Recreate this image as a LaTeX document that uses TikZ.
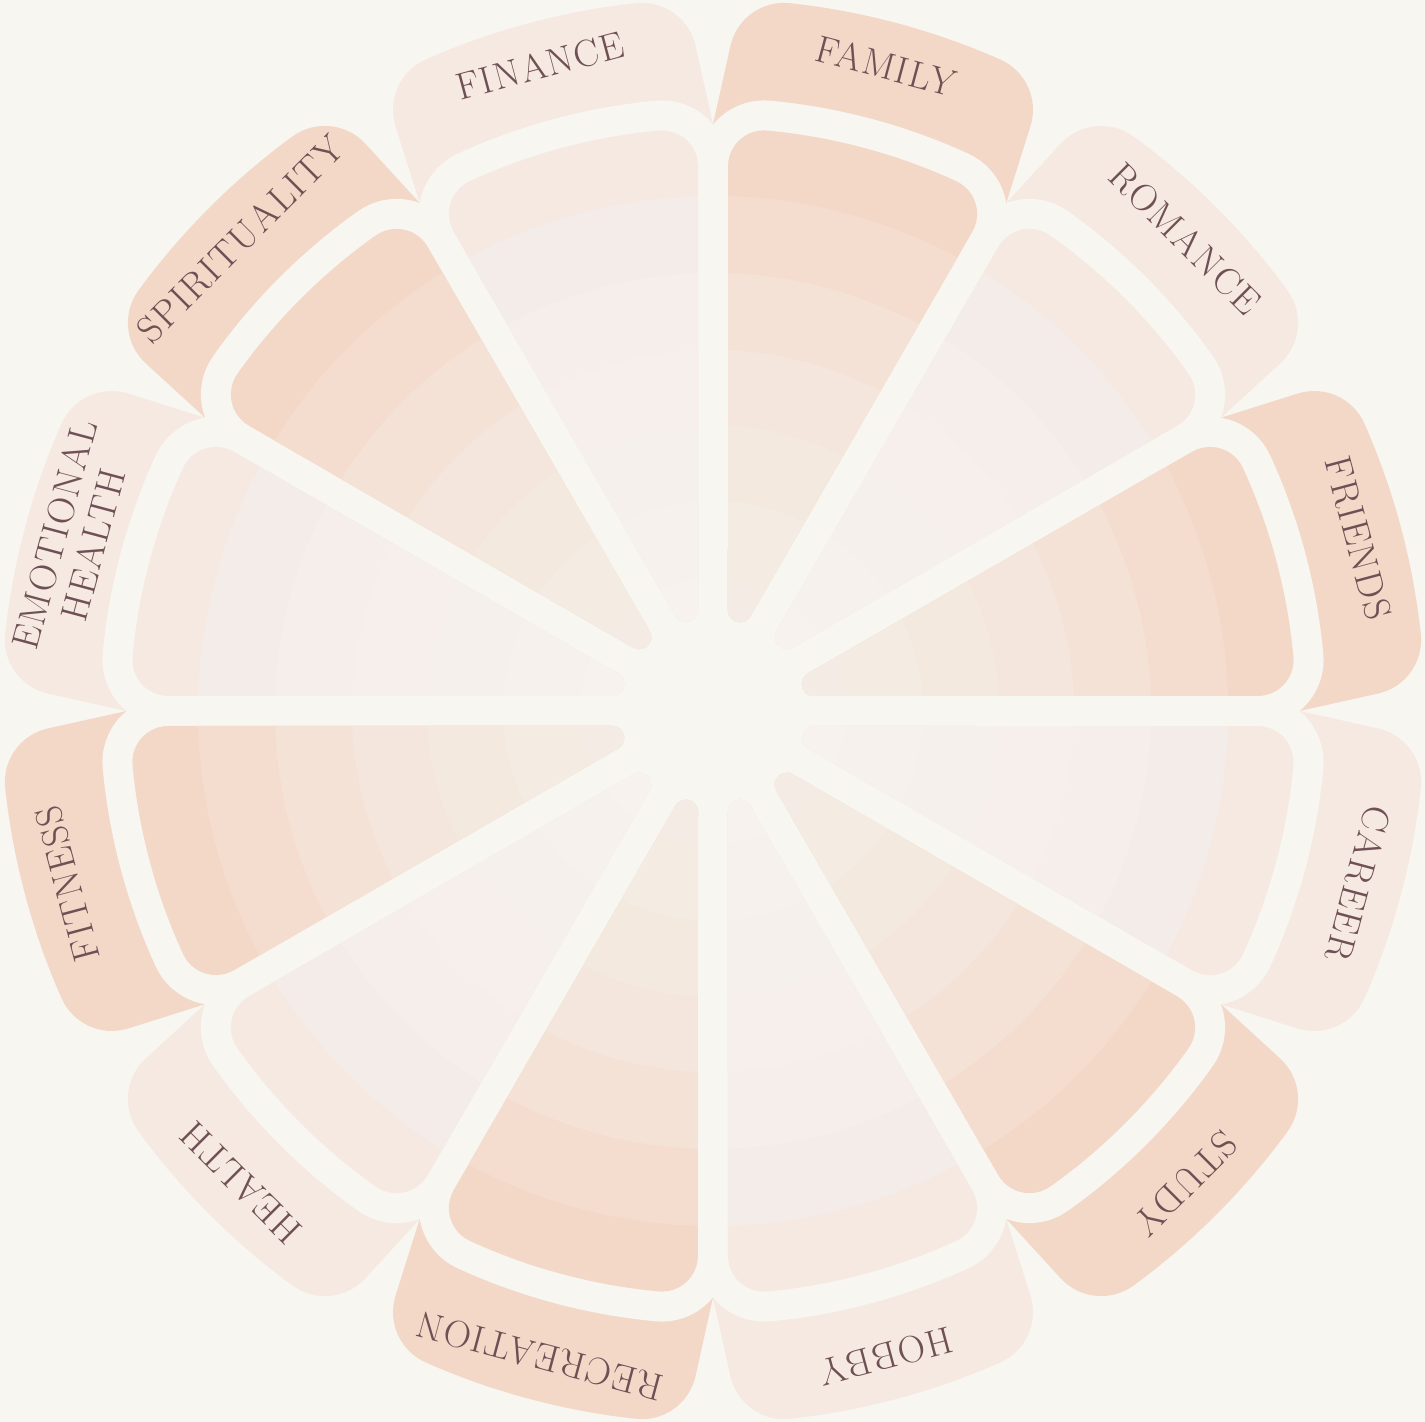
\documentclass[tikz,border=0pt]{standalone}
\usepackage{fontspec}
\definecolor{bg}{HTML}{F8F6F1}
\definecolor{bandD}{HTML}{F3D8C8}
\definecolor{bandL}{HTML}{F6E9E2}
\definecolor{D0}{HTML}{F3D8C8}
\definecolor{D1}{HTML}{F4DDCF}
\definecolor{D2}{HTML}{F4E2D6}
\definecolor{D3}{HTML}{F4E6DC}
\definecolor{D4}{HTML}{F4E9DF}
\definecolor{D5}{HTML}{F4EBE2}
\definecolor{D6}{HTML}{F4ECE4}
\definecolor{L0}{HTML}{F6E9E2}
\definecolor{L1}{HTML}{F4ECE8}
\definecolor{L2}{HTML}{F5EEEA}
\definecolor{L3}{HTML}{F6EFEB}
\definecolor{L4}{HTML}{F6F0EC}
\definecolor{L5}{HTML}{F6F1ED}
\definecolor{L6}{HTML}{F7F2EE}
\definecolor{txt}{HTML}{6E5055}
\def\wedgepath{(101.2,-11.59) -- (529.93,-126.47) arc[start angle=-105, end angle=-9.65, radius=36] arc[start angle=-9.65, end angle=9.65, radius=583] arc[start angle=9.65,end angle=105,radius=36] -- (101.2,11.59) arc[start angle=105,end angle=255,radius=12] -- cycle}
\def\bandpath{(566.5,-151.8) -- (646.9,-155.3) arc[start angle=-92.5, end angle=-8.787, radius=55] arc[start angle=-8.787, end angle=8.787, radius=712] arc[start angle=8.787, end angle=92.5, radius=55] -- (566.5,151.8) -- cycle}
\newfontfamily\lblfont[LetterSpace=4]{Latin Modern Roman}
\tikzset{
  lbl/.style={text=txt, inner sep=0pt, font=\lblfont\fontsize{19}{20}\selectfont},
  halo/.style={fill=bg, draw=bg, line width=30pt, line join=round}
}
\begin{document}
\begin{tikzpicture}[x=0.5pt,y=0.5pt]
\fill[bg] (-713,-711) rectangle (712,711);
\useasboundingbox (-713,-711) rectangle (712,711);
\foreach \a/\t in {75/D,45/L,15/D,-15/L,-45/D,-75/L,-105/D,-135/L,-165/D,165/L,135/D,105/L}{
  \fill[band\t, rotate=\a] \bandpath;
}
\foreach \a in {75,45,15,-15,-45,-75,-105,-135,-165,165,135,105}{
  \path[halo, rotate=\a] \wedgepath;
}
\foreach \a/\t in {75/D,45/L,15/D,-15/L,-45/D,-75/L,-105/D,-135/L,-165/D,165/L,135/D,105/L}{
  \begin{scope}[rotate=\a]
    \clip \wedgepath;
    \fill[\t0] (0,0) circle[radius=600];
    \fill[\t1] (0,0) circle[radius=515];
    \fill[\t2] (0,0) circle[radius=438];
    \fill[\t3] (0,0) circle[radius=361];
    \fill[\t4] (0,0) circle[radius=286];
    \fill[\t5] (0,0) circle[radius=210];
    \fill[\t6] (0,0) circle[radius=133];
  \end{scope}
}
\node[lbl, rotate=-15] (family) at (75:668) {FAMILY};
\node[lbl, rotate=-45] (romance) at (45:668) {ROMANCE};
\node[lbl, rotate=-75] (friends) at (15:668) {FRIENDS};
\node[lbl, rotate=-105] (career) at (-15:668) {CAREER};
\node[lbl, rotate=-135] (study) at (-45:668) {STUDY};
\node[lbl, rotate=-165] (hobby) at (-75:668) {HOBBY};
\node[lbl, rotate=-195] (recreation) at (-105:668) {RECREATION};
\node[lbl, rotate=-225] (health) at (-135:668) {HEALTH};
\node[lbl, rotate=105] (fitness) at (195:668) {FITNESS};
\node[lbl, rotate=75, align=center] (emotional) at (165:662) {EMOTIONAL\\HEALTH};
\node[lbl, rotate=45] (spirituality) at (135:668) {SPIRITUALITY};
\node[lbl, rotate=15] (finance) at (105:668) {FINANCE};
\end{tikzpicture}
\end{document}
